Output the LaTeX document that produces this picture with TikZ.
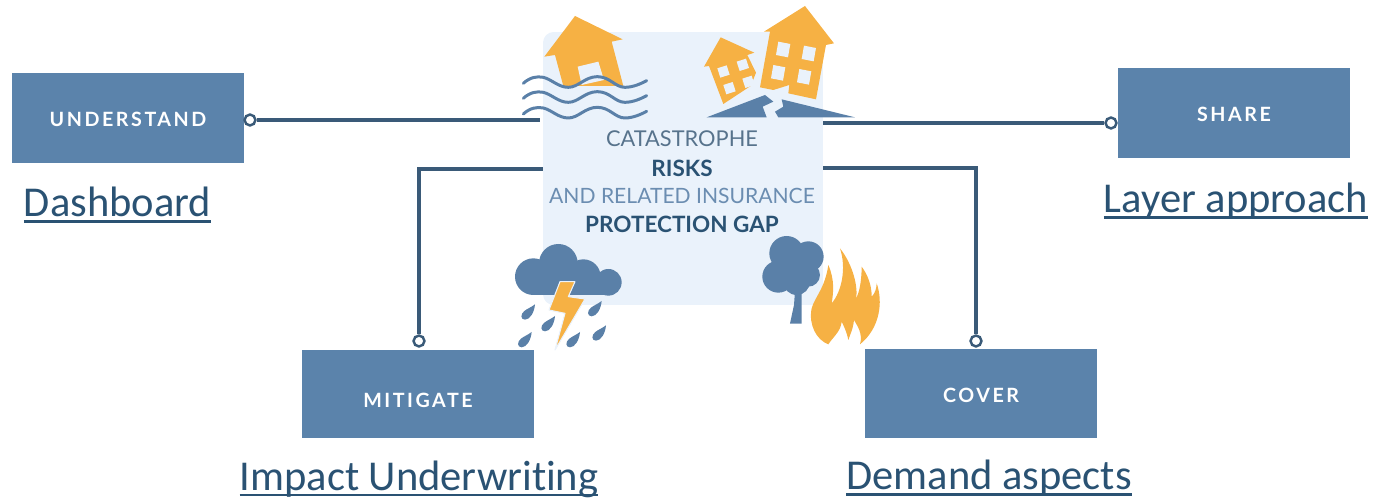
\documentclass[tikz,border=0pt]{standalone}
\usepackage{fontspec}
\setmainfont[Ligatures={NoCommon}]{Carlito}
\newfontfamily\boxfont[LetterSpace=13]{Lato Bold}
\newfontfamily\gapfont{Lato}
\newfontfamily\gapbold{Lato Bold}
\usepackage{tikz}
\usepackage{xcolor}
\definecolor{boxblue}{HTML}{5B83AB}
\definecolor{gapfill}{HTML}{EAF2FB}
\definecolor{wirecol}{HTML}{3A5A78}
\definecolor{housecol}{HTML}{F6B144}
\definecolor{iconblue}{HTML}{5A80A8}
\definecolor{linkcol}{HTML}{2A5273}
\newcommand{\linkline}[1]{\setbox0\hbox{#1}\rlap{\rule[-3.4pt]{\wd0}{1.5pt}}\box0}
\tikzset{>=latex,
  actionbox/.style={fill=boxblue, minimum width=4.64cm, inner sep=0pt},
  actiontext/.style={text=white, inner sep=0pt, font=\fontsize{11.2}{13}\boxfont},
  linklabel/.style={text=linkcol, inner sep=0pt, anchor=base, font=\fontsize{24.2}{28}\selectfont},
  wire/.style={line width=1.8pt, draw=wirecol},
  walldot/.style={circle, draw=wirecol, fill=white, line width=1.4pt, minimum size=6.2pt, inner sep=0pt},
  gapline/.style={inner sep=0pt, font=\fontsize{12.4}{15}\gapfont},
  gapstrong/.style={inner sep=0pt, text=linkcol, font=\fontsize{12.8}{15}\gapbold},
  house/.style={fill=housecol},
  hole/.style={fill=gapfill},
  wave/.style={draw=iconblue, line width=1.7pt, line cap=round},
  icon/.style={fill=iconblue}}

\begin{document}
\begin{tikzpicture}[x=0.02cm,y=-0.02cm]
    \useasboundingbox (0,0) rectangle (1373,499);
    \node[fill=gapfill, rounded corners=6pt, minimum width=5.6cm, minimum height=5.46cm, inner sep=0pt] (gap) at (683,168.5) {};

    \node[actionbox, minimum height=1.8cm] (understand) at (128,118) {};
    \node[actionbox, minimum height=1.8cm] (share) at (1234,113) {};
    \node[actionbox, minimum height=1.76cm] (mitigate) at (418,394) {};
    \node[actionbox, minimum height=1.78cm] (cover) at (981,393.5) {};
    \node[actiontext] (understand text) at (128,119) {UNDERSTAND};
    \node[actiontext] (share text) at (1234,114) {SHARE};
    \node[actiontext] (mitigate text) at (418,400) {MITIGATE};
    \node[actiontext] (cover text) at (981,395) {COVER};

    \node[walldot] (understand dot) at (250,120) {};
    \node[walldot] (share dot) at (1111,123) {};
    \node[walldot] (mitigate dot) at (419,341) {};
    \node[walldot] (cover dot) at (976,341) {};
    \coordinate (understand in) at (540,120);
    \coordinate (share in) at (823,123);
    \coordinate (mitigate in) at (543,169);
    \coordinate (cover in) at (823,168);
    \draw[wire] (understand dot) -- (understand in);
    \draw[wire] (share dot) -- (share in);
    \draw[wire] (mitigate dot) |- (mitigate in);
    \draw[wire] (cover dot) |- (cover in);

    \node[gapline, text=wirecol!85] (catastrophe) at (682,139) {CATASTROPHE};
    \node[gapstrong] (risks) at (682,168.5) {RISKS};
    \node[gapline, text=iconblue!90, font=\fontsize{12}{15}\gapfont] (related) at (682,195.5) {AND RELATED INSURANCE};
    \node[gapstrong] (protection) at (682,224) {PROTECTION GAP};

    \node[linklabel] (dashboard) at (117.5,217) {\linkline{Dashboard}};
    \node[linklabel] (layer) at (1236,213) {\linkline{Layer approach}};
    \node[linklabel] (impact) at (419,490.5) {\linkline{Impact Underwriting}};
    \node[linklabel] (demand) at (989,490) {\linkline{Demand aspects}};

    % flood and quake
    \begin{scope}[shift={(510,0)},x=0.00667cm,y=-0.00667cm]
      \fill[house] (195,48) -- (338,118) -- (305,125) -- (340,258) -- (160,258) -- (135,165) -- (103,170) -- cycle;
      \fill[hole] (203,200) -- (265,185) -- (282,240) -- (215,255) -- cycle;
      \foreach \wavey in {0,45,92}
        \draw[wave, yshift=\wavey*-0.00667cm] (40,250) .. controls (60,232) and (80,228) .. (100,232) .. controls (125,238) and (145,262) .. (175,262) .. controls (205,262) and (225,230) .. (262,230) .. controls (300,230) and (315,262) .. (345,262) .. controls (370,262) and (395,250) .. (410,242);
      \fill[house] (885,18) -- (972,130) -- (948,135) -- (918,298) -- (835,280) -- (838,255) -- (790,270) -- (750,262) -- (780,95) -- (762,95) -- cycle;
      \foreach \winx/\winy in {805/125, 882/137, 790/195, 868/207}
        \fill[hole] (\winx,\winy) -- ++(36,7) -- ++(-7,40) -- ++(-36,-7) -- cycle;
      \fill[house] (632,112) -- (733,158) -- (712,165) -- (738,218) -- (722,258) -- (640,312) -- (597,198) -- (582,200) -- cycle;
      \foreach \winx/\winy in {622/205, 680/185, 640/255, 697/236}
        \fill[hole] (\winx,\winy) -- ++(28,-9) -- ++(9,28) -- ++(-28,9) -- cycle;
      \fill[icon] (590,352) -- (765,285) -- (790,305) -- (758,320) -- (770,352) -- cycle;
      \fill[icon] (815,298) -- (1035,352) -- (805,352) -- (795,335) -- (820,320) -- cycle;
    \end{scope}

    % storm and fire
    \begin{scope}[shift={(500,225)},x=0.00667cm,y=-0.00667cm]
      \fill[icon] (175,115) circle (58*0.00667cm);
      \fill[icon] (100,155) circle (55*0.00667cm);
      \fill[icon] (250,155) circle (52*0.00667cm);
      \fill[icon] (325,172) circle (40*0.00667cm);
      \fill[icon] (100,150) rectangle (325,210);
      \fill[house, draw=gapfill, line width=0.6pt, line join=round] (180,170) -- (225,170) -- (205,215) -- (255,222) -- (165,375) -- (195,265) -- (147,255) -- cycle;
      \foreach \dropx/\dropy in {85/262, 145/297, 285/252, 75/345, 220/345, 298/325} {
        \begin{scope}[shift={(\dropx,\dropy)}]
          \fill[icon] (20,-24) .. controls (18,0) and (5,22) .. (-10,22) .. controls (-24,22) and (-24,5) .. (-12,-4) .. controls (-5,-10) and (10,-16) .. (20,-24) -- cycle;
        \end{scope}
      }
      \fill[icon] (860,85) circle (52*0.00667cm);
      \fill[icon] (925,95) circle (46*0.00667cm);
      \fill[icon] (835,155) circle (48*0.00667cm);
      \fill[icon] (890,170) circle (40*0.00667cm);
      \fill[icon] (925,150) circle (35*0.00667cm);
      \fill[icon] (885,120) circle (50*0.00667cm);
      \fill[icon] (885,200) -- (905,200) -- (905,296) -- (870,296) -- (882,240) -- cycle;
      \fill[house] (985,358) .. controls (950,345) and (925,300) .. (935,250)
        .. controls (945,215) and (975,190) .. (985,120)
        .. controls (1005,165) and (1000,205) .. (995,235)
        .. controls (1025,200) and (1040,130) .. (1020,70)
        .. controls (1060,120) and (1075,190) .. (1068,220)
        .. controls (1080,200) and (1085,160) .. (1085,125)
        .. controls (1115,165) and (1115,205) .. (1115,215)
        .. controls (1125,205) and (1130,190) .. (1130,175)
        .. controls (1150,230) and (1140,310) .. (1080,358)
        .. controls (1090,325) and (1070,300) .. (1062,285)
        .. controls (1060,310) and (1050,330) .. (1045,345)
        .. controls (1040,320) and (1030,300) .. (1025,290)
        .. controls (1022,320) and (1000,335) .. (985,358) -- cycle;
    \end{scope}
  \end{tikzpicture}
\end{document}
